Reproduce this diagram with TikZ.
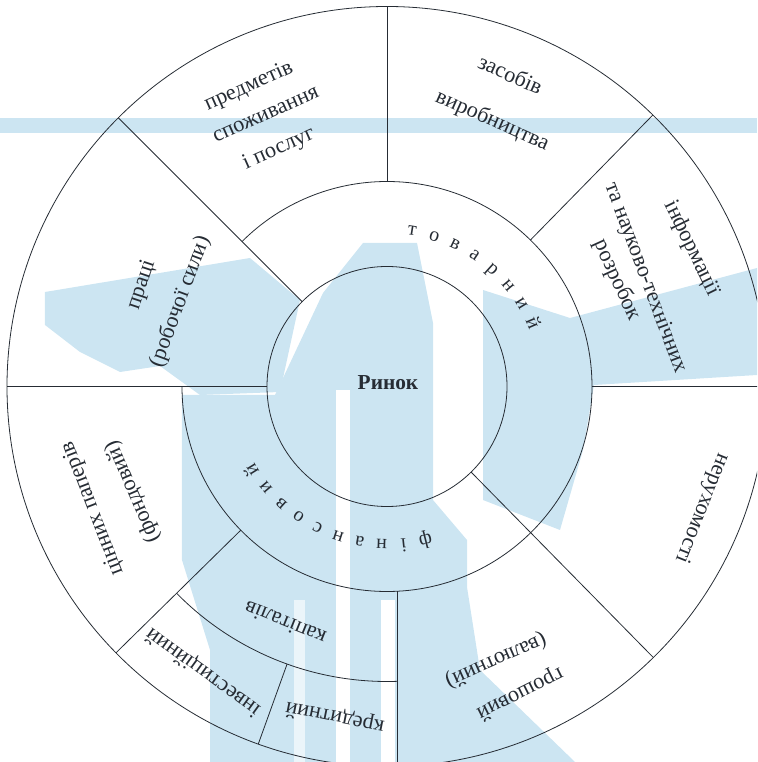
\documentclass[tikz,border=0pt]{standalone}
\usepackage{fontspec}
\setmainfont{Liberation Serif}
\definecolor{wm}{RGB}{204,229,242}
\definecolor{ink}{RGB}{38,44,52}
\begin{document}
\begin{tikzpicture}[x=0.75pt,y=0.75pt,
  lbl/.style={text=ink, font=\fontsize{16.7}{19}\selectfont, inner sep=0pt},
  spl/.style={text=ink, font=\fontsize{15}{17}\selectfont, inner sep=0pt, anchor=base},
  ln/.style={draw=ink, line width=0.6pt}]
\useasboundingbox (-387,-375.5) rectangle (370,386.5);
\clip (-387,-375.5) rectangle (370,386.5);
% watermark (pixel coordinates, y down)
\begin{scope}[shift={(-387,386.5)}, yscale=-1]
  \fill[wm] (0,118) rectangle (757,133);
  \fill[wm] (45,292) -- (250,258) -- (300,300) -- (280,392) -- (200,395) -- (160,366) -- (120,372) -- (80,352) -- (45,325) -- cycle;
  \fill[wm] (182,395) -- (275,395) -- (323,293) -- (363,243) -- (417,243) -- (433,323) -- (433,500) -- (467,540) -- (467,587) -- (480,670) -- (575,762) -- (210,762) -- (210,650) -- (182,560) -- cycle;
  \fill[wm] (483,290) -- (570,318) -- (757,268) -- (757,375) -- (594,385) -- (583,450) -- (560,530) -- (483,500) -- cycle;
  \fill[white] (336,390) rectangle (350,762);
  \fill[white] (381,600) rectangle (395,762);
  \fill[white!60!wm] (294,600) rectangle (305,762);
\end{scope}
% circles and dividers
\def\ra{120}\def\rb{205}\def\rc{380}
\coordinate (O) at (0,0);
\draw[ln] (O) circle[radius=\rc];
\draw[ln] (O) circle[radius=\ra];
\draw[ln] (180:\rb) arc[start angle=180, end angle=495, radius=\rb];
\draw[ln] (90:\rb) -- (90:\rc);
\draw[ln] (135:\ra) -- (135:\rc);
\draw[ln] (45.6:\rb) -- (45.6:\rc);
\draw[ln] (0:\rb) -- (0:\rc);
\draw[ln] (180:\ra) -- (180:\rc);
\draw[ln] (-45.5:\ra) -- (-45.5:\rc);
\draw[ln] (224.5:\rb) -- (224.5:\rc);
\draw[ln] (10,-204.76) -- (10,-390);
\draw[ln] (224.5:295) arc[start angle=224.5, end angle=271.94, radius=295];
\draw[ln] (250.2:295) -- (250.2:\rc);
% centre
\node[lbl, font=\fontsize{16}{18}\selectfont\bfseries] (rynok) at (1,3.5) {Ринок};
% letter-spaced ring words
\foreach \ch [count=\i from 0] in {т,о,в,а,р,н,и,й}{
  \pgfmathsetmacro{\ang}{80.8-8.21*\i}
  \node[spl, rotate=\ang-90] (t\i) at (\ang:153) {\ch};
}
\foreach \ch [count=\i from 0] in {ф,і,н,а,н,с,о,в,и,й}{
  \pgfmathsetmacro{\ang}{-75.9-8.04*\i}
  \node[spl, rotate=\ang-90] (f\i) at (\ang:153) {\ch};
}
% sector labels
\node[lbl, rotate=24] (a1) at (-138,299.8) {предметів};
\node[lbl, rotate=24] (a2) at (-121,271.5) {споживання};
\node[lbl, rotate=24] (a3) at (-108,237.5) {і послуг};
\node[lbl, rotate=-24] (b1) at (123.7,312.5) {засобів};
\node[lbl, rotate=-24] (b2) at (105.3,265.8) {виробництва};
\node[lbl, rotate=-64] (c1) at (304.7,138.2) {інформації};
\node[lbl, rotate=-69.5] (c2) at (258,108.5) {та науково-технічних};
\node[lbl, rotate=-65.6] (c3) at (230,106.5) {розробок};
\node[lbl, rotate=-111.6] (d1) at (314.7,-121.8) {нерухомості};
\node[lbl, rotate=-153.4] (e1) at (133,-306.8) {грошовий};
\node[lbl, rotate=-156] (e2) at (109,-273.5) {(валютний)};
\node[lbl, rotate=111] (g1) at (-294.3,-121.8) {цінних паперів};
\node[lbl, rotate=113.5] (g2) at (-254.3,-105.2) {(фондовий)};
\node[lbl, rotate=158] (h1) at (-102,-236.8) {капіталів};
\node[lbl, rotate=144] (h2) at (-183.7,-285.2) {інвестиційний};
\node[lbl, rotate=168.7] (h3) at (-52,-330.2) {кредитний};
\node[lbl, rotate=71.6] (p1) at (-245.3,101.5) {праці};
\node[lbl, rotate=69.6] (p2) at (-207,84.8) {(робочої сили)};
\end{tikzpicture}
\end{document}
